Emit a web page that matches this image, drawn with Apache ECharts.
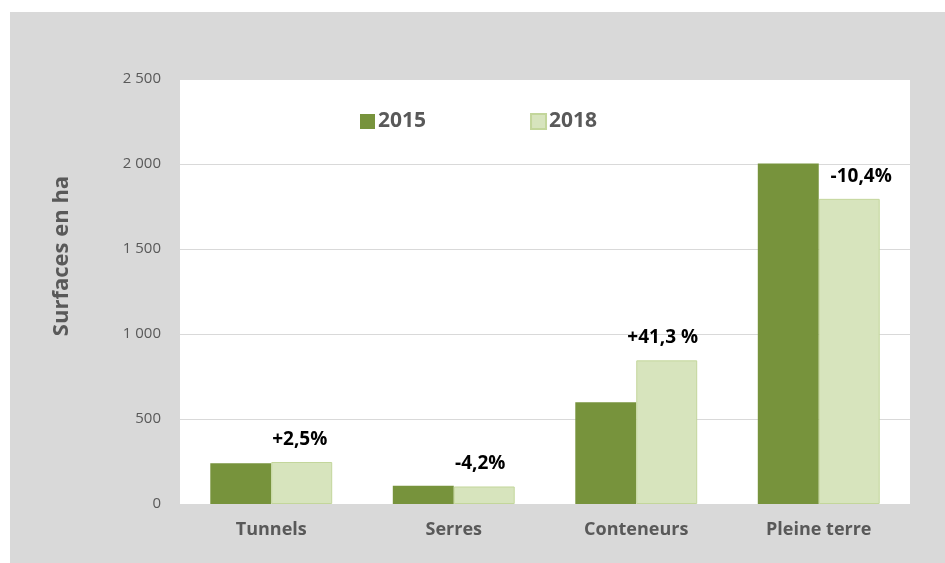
<!DOCTYPE html>
<html>
<head>
<meta charset="utf-8">
<script src="https://cdn.jsdelivr.net/npm/echarts@6/dist/echarts.min.js"></script>
<style>
  html, body { margin: 0; padding: 0; background: #ffffff; }
  #chart-container { position: absolute; left: 10px; top: 12px; width: 935px; height: 551px; }
</style>
</head>
<body>
<div id="chart-container"></div>
<script>
var dom = document.getElementById("chart-container");
var myChart = echarts.init(dom, null, { renderer: "canvas" });

// categories and values (ha)
var categories = ["Tunnels", "Serres", "Conteneurs", "Pleine terre"];
var values2015 = [240, 108, 598, 2003];
var values2018 = [247, 103, 845, 1795];
var changeLabels = ["+2,5%", "-4,2%", "+41,3 %", "-10,4%"];
var yTicks = [0, 500, 1000, 1500, 2000, 2500];

var grayText = "#595959";
var fontName = "Open Sans";

function thousands(v) {
  return String(v).replace(/\B(?=(\d{3})+(?!\d))/g, " ");
}

var option = {
  backgroundColor: "#d9d9d9",
  textStyle: { fontFamily: fontName },
  grid: {
    left: 170,
    right: 35,
    top: 67,
    bottom: 59,
    show: true,
    backgroundColor: "#ffffff",
    borderWidth: 0
  },
  legend: {
    left: 345,
    top: 94,
    itemWidth: 15,
    itemHeight: 15,
    itemGap: 104,
    icon: "rect",
    textStyle: { color: grayText, fontSize: 21, fontWeight: "bold", fontFamily: fontName, padding: [0, 0, 0, -2] },
    data: ["2015", "2018"]
  },
  graphic: [
    {
      type: "text",
      x: 52,
      y: 244,
      rotation: Math.PI / 2,
      style: {
        text: "Surfaces en ha",
        fill: grayText,
        font: "bold 22px " + fontName,
        textAlign: "center",
        textVerticalAlign: "middle"
      }
    }
  ],
  xAxis: {
    type: "category",
    data: categories,
    axisTick: { show: false },
    axisLine: { lineStyle: { color: "#d9d9d9", width: 1 } },
    axisLabel: {
      color: grayText,
      fontSize: 18,
      fontWeight: "bold",
      fontFamily: fontName,
      margin: 17
    }
  },
  yAxis: {
    type: "value",
    min: yTicks[0],
    max: yTicks[yTicks.length - 1],
    interval: yTicks[1] - yTicks[0],
    axisLine: { show: false },
    axisTick: { show: false },
    splitLine: { lineStyle: { color: "#d9d9d9", width: 1 } },
    axisLabel: {
      color: grayText,
      fontSize: 15,
      fontFamily: fontName,
      margin: 19,
      formatter: thousands
    }
  },
  series: [
    {
      name: "2015",
      type: "bar",
      data: values2015,
      barWidth: "33.4%",
      barGap: "0%",
      itemStyle: { color: "#77933c" }
    },
    {
      name: "2018",
      type: "bar",
      barWidth: "33.4%",
      data: values2018.map(function (v, i) {
        return {
          value: v,
          label: { offset: i === 3 ? [12, 0] : (i === 0 ? [-2, 0] : [-4, 0]) }
        };
      }),
      itemStyle: { color: "#d7e4bd", borderColor: "#c3d69b", borderWidth: 1 },
      label: {
        show: true,
        position: "top",
        distance: 13,
        color: "#000000",
        fontSize: 19,
        fontWeight: "bold",
        fontFamily: fontName,
        formatter: function (p) { return changeLabels[p.dataIndex]; }
      }
    }
  ]
};

myChart.setOption(option);
window.addEventListener("resize", myChart.resize);
</script>
</body>
</html>
